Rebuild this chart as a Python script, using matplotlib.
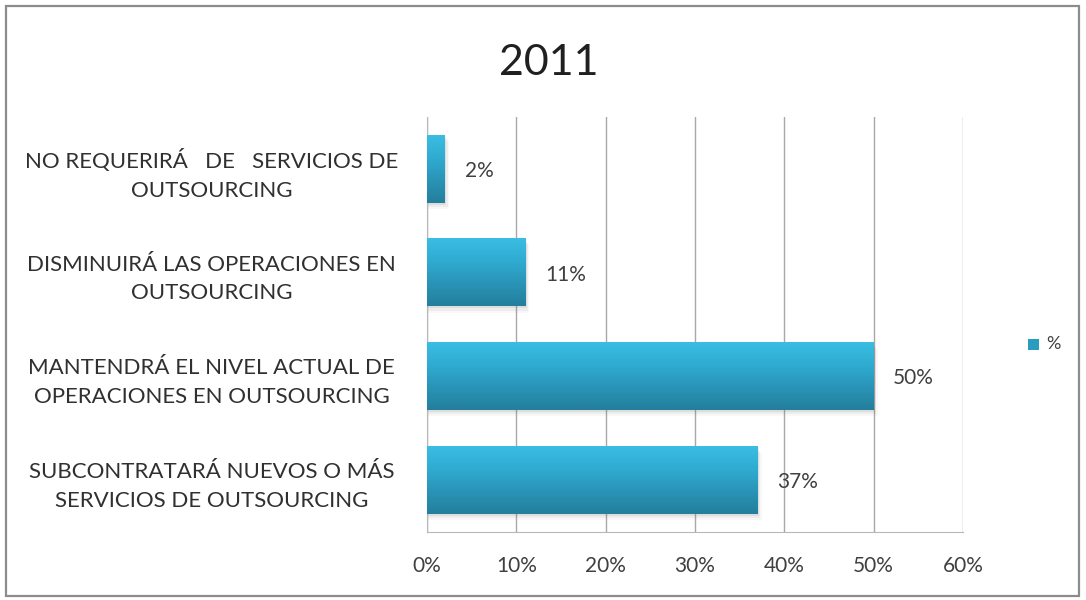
import numpy as np
import matplotlib.pyplot as plt
from matplotlib.colors import LinearSegmentedColormap
from matplotlib.patches import Rectangle
from matplotlib.ticker import FuncFormatter

plt.rcParams['font.family'] = ['Lato', 'DejaVu Sans']

categorias = [
    "NO REQUERIRÁ   DE   SERVICIOS DE\nOUTSOURCING",
    "DISMINUIRÁ LAS OPERACIONES EN\nOUTSOURCING",
    "MANTENDRÁ EL NIVEL ACTUAL DE\nOPERACIONES EN OUTSOURCING",
    "SUBCONTRATARÁ NUEVOS O MÁS\nSERVICIOS DE OUTSOURCING",
]
porcentajes = [2, 11, 50, 37]
titulo = "2011"
serie = "%"

fig = plt.figure(figsize=(10.86, 6.0), dpi=100)
ax = fig.add_axes([0.3932, 0.1133, 0.4935, 0.6917])

# degradado vertical de las barras (claro arriba, oscuro abajo)
cmap = LinearSegmentedColormap.from_list(
    "barra", ["#3abde2", "#30abd2", "#2994b7", "#247f9d"])
grad = np.linspace(0, 1, 64).reshape(-1, 1)

alto = 0.65
y = np.arange(len(categorias))
for yi, v in zip(y, porcentajes):
    # sombra
    for k, a in enumerate([0.10, 0.07, 0.04]):
        off = 0.02 + 0.02 * k
        ax.add_patch(Rectangle((0, yi - alto / 2 + off), v + 0.15 * (k + 1), alto,
                               facecolor="#606060", alpha=a, lw=0, zorder=2))
    ax.imshow(grad, cmap=cmap, aspect="auto", zorder=3,
              extent=(0, v, yi + alto / 2, yi - alto / 2))
    ax.text(v + 2.2, yi + 0.02, f"{v}%", va="center", ha="left",
            fontsize=15, color="#404040", zorder=4)

ax.set_xlim(0, 60)
ax.set_ylim(len(categorias) - 0.5, -0.5)
ax.set_xticks(np.arange(0, 61, 10))
ax.xaxis.set_major_formatter(FuncFormatter(lambda x, p: f"{x:.0f}%"))
ax.set_yticks(y)
ax.set_yticklabels(categorias, ha="center", fontsize=16, color="#303030",
                   linespacing=1.55)
ax.tick_params(axis="y", length=0, pad=155)
ax.tick_params(axis="x", length=0, pad=17, labelsize=15, labelcolor="#404040")

ax.grid(axis="x", color="#a8a8a8", lw=1)
ax.set_axisbelow(True)
for s in ["top", "right"]:
    ax.spines[s].set_visible(False)
for s in ["left", "bottom"]:
    ax.spines[s].set_color("#b8b8b8")

fig.text(0.505, 0.895, titulo, ha="center", va="center", fontsize=31,
         color="#202020")

# leyenda
fig.patches.append(Rectangle((1028 / 1086, 1 - 350 / 600), 11 / 1086, 11 / 600,
                             transform=fig.transFigure, facecolor="#2a9cc0",
                             edgecolor="none"))
fig.text(1046 / 1086, 1 - 344 / 600, serie, ha="left", va="center",
         fontsize=13, color="#404040")

# marco exterior
fig.patches.append(Rectangle((6 / 1086, 4 / 600), 1073 / 1086, 590 / 600,
                             transform=fig.transFigure, facecolor="none",
                             edgecolor="#8c8c8c", lw=1.6))

fig.savefig("out.png", dpi=100)
